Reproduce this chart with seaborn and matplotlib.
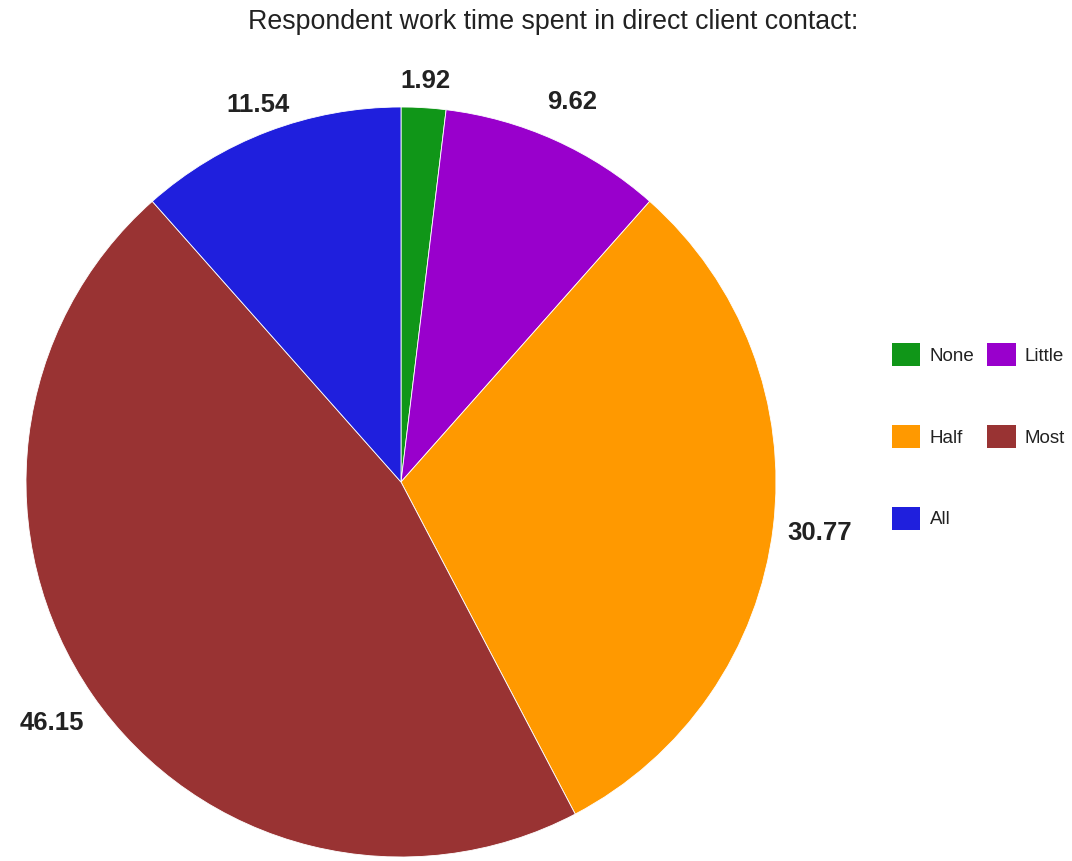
import matplotlib
matplotlib.use("Agg")
import matplotlib.pyplot as plt
import seaborn as sns
from matplotlib.patches import Patch

categories = ["None", "Little", "Half", "Most", "All"]
values = [1.92, 9.62, 30.77, 46.15, 11.54]
colors = ["#109618", "#9900cc", "#ff9900", "#993333", "#1f1fdd"]
title = "Respondent work time spent in direct client contact:"

sns.set_theme(style="white")
plt.rcParams["font.family"] = ["Liberation Sans", "DejaVu Sans"]

W, H = 1072, 861
fig = plt.figure(figsize=(W / 100, H / 100), dpi=100)
cx, cy, r = 401, 482, 375
ax = fig.add_axes([(cx - r) / W, (H - cy - r) / H, 2 * r / W, 2 * r / H])

wedges, texts = ax.pie(values, colors=colors, startangle=90, counterclock=False,
                       labels=[f"{v:.2f}" for v in values], labeldistance=1.1,
                       wedgeprops=dict(edgecolor="white", linewidth=0.6),
                       textprops=dict(fontsize=18.5, fontweight="bold", color="#222222"))
dists = [1.07, 1.11, 1.125, 1.13, 1.075]
for t, d in zip(texts, dists):
    x, y = t.get_position()
    f = d / 1.1
    t.set_position((x * f, y * f))
    t.set_ha("center")
    t.set_va("center")
ax.set_aspect("equal")
ax.set_xlim(-1, 1)
ax.set_ylim(-1, 1)
ax.axis("off")

fig.text(553 / W, 1 - 22 / H, title, ha="center", va="center", fontsize=19.3, color="#222222")

order = [0, 2, 4, 1, 3]
handles = [Patch(facecolor=colors[i], edgecolor="none") for i in order]
labels = [categories[i] for i in order]
fig.legend(handles, labels, loc="upper left", bbox_to_anchor=(892 / W, 1 - 343 / H),
           ncol=2, frameon=False, fontsize=13.5, borderpad=0, borderaxespad=0,
           handlelength=1.5, handleheight=1.5, handletextpad=0.5,
           labelspacing=3.15, columnspacing=0.7, labelcolor="#222222")

fig.savefig("out.png", dpi=100, facecolor="white")
